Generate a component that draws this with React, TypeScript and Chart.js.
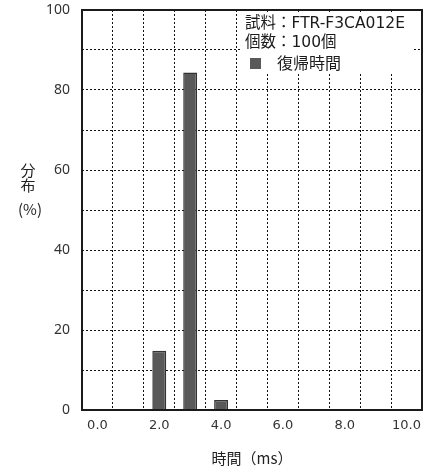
import React, { useEffect, useRef } from 'react';
import { Chart, registerables } from 'chart.js';

Chart.register(...registerables);

const categories = ['0.0', '1.0', '2.0', '3.0', '4.0', '5.0', '6.0', '7.0', '8.0', '9.0', '10.0'];
const distribution = [0, 0, 14.8, 84.4, 2.5, 0, 0, 0, 0, 0, 0];
const yLabelValues = [0, 20, 40, 60, 80, 100];
const sampleLabel = '試料：FTR-F3CA012E';
const countLabel = '個数：100個';
const seriesName = '復帰時間';
const yTitleLines = ['分', '布', '(%)'];
const xTitle = '時間（ms）';

const JP = '"Noto Sans CJK JP", "Noto Sans", sans-serif';
const LEG = '"DejaVu Sans", "Noto Sans CJK JP", sans-serif';

const overlay = {
  id: 'overlay',
  afterDraw(chart: any) {
    const { ctx, chartArea: a } = chart;
    ctx.save();
    const lx = a.right - 182;
    ctx.fillStyle = '#ffffff';
    ctx.fillRect(lx, a.top + 2, 173, 61);
    ctx.fillStyle = '#1a1a1a';
    ctx.font = '15.5px ' + LEG;
    ctx.textAlign = 'left';
    ctx.textBaseline = 'middle';
    ctx.fillText(sampleLabel, lx + 5, a.top + 14);
    ctx.fillText(countLabel, lx + 5, a.top + 33);
    ctx.fillStyle = '#595959';
    ctx.fillRect(lx + 10, a.top + 48, 11, 11);
    ctx.fillStyle = '#1a1a1a';
    ctx.font = '16px ' + JP;
    ctx.fillText(seriesName, lx + 37, a.top + 53);

    ctx.strokeStyle = '#1a1a1a';
    ctx.lineWidth = 2;
    ctx.setLineDash([]);
    ctx.strokeRect(a.left, a.top, a.right - a.left, a.bottom - a.top);

    ctx.fillStyle = '#222';
    ctx.font = '15px ' + JP;
    ctx.textAlign = 'center';
    ctx.fillText(yTitleLines[0], 28, 170);
    ctx.fillText(yTitleLines[1], 28, 185);
    ctx.fillText(yTitleLines[2], 30, 209);

    ctx.fillText(xTitle, (a.left + a.right) / 2, 458);
    ctx.restore();
  },
};

export default function App() {
  const ref = useRef<HTMLCanvasElement>(null);
  useEffect(() => {
    document.body.style.margin = '0';
    const chart = new Chart(ref.current as HTMLCanvasElement, {
      type: 'bar',
      data: {
        labels: categories,
        datasets: [
          {
            label: seriesName,
            data: distribution,
            backgroundColor: '#595959',
            borderColor: '#333333',
            borderWidth: 1.5,
            barPercentage: 0.9,
            categoryPercentage: 0.5,
          },
        ],
      },
      options: {
        responsive: false,
        animation: false,
        layout: { padding: { top: 10, right: 21, left: 0, bottom: 0 } },
        plugins: { legend: { display: false }, tooltip: { enabled: false }, title: { display: false } },
        scales: {
          x: {
            grid: { color: '#111', lineWidth: 1, drawTicks: false, offset: true },
            border: { display: false, dash: [2, 2] },
            ticks: {
              autoSkip: false,
              maxRotation: 0,
              padding: 8,
              color: '#333',
              font: { family: '"DejaVu Sans", sans-serif', size: 13 },
              callback: (_v: any, i: number) => (i % 2 === 0 ? categories[i] : ''),
            },
            afterFit: (s: any) => {
              s.height = 57;
              s.paddingLeft = 0;
              s.paddingRight = 0;
            },
          },
          y: {
            min: 0,
            max: 100,
            grid: { color: '#111', lineWidth: 1, drawTicks: false },
            border: { display: false, dash: [2, 2] },
            ticks: {
              stepSize: 10,
              padding: 12,
              color: '#333',
              font: { family: '"Noto Sans", sans-serif', size: 14 },
              callback: (v: any) => (yLabelValues.includes(Number(v)) ? String(v) : ''),
            },
            afterFit: (s: any) => {
              s.width = 82;
              s.paddingTop = 0;
              s.paddingBottom = 0;
            },
          },
        },
      },
      plugins: [overlay],
    });
    return () => chart.destroy();
  }, []);
  return (
    <div style={{ width: 443, height: 467 }}>
      <canvas ref={ref} width={443} height={467} style={{ display: 'block' }} />
    </div>
  );
}
